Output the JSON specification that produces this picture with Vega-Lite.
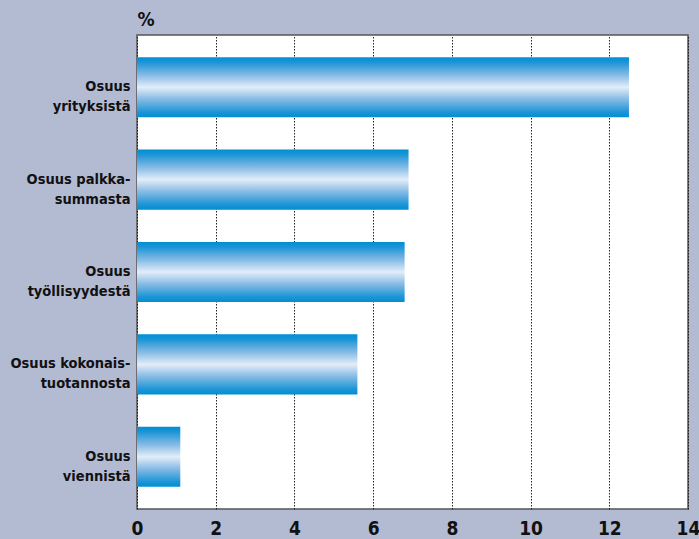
{
  "$schema": "https://vega.github.io/schema/vega-lite/v6.json",
  "width": 551,
  "height": 474,
  "autosize": "none",
  "padding": {"left": 137, "top": 35, "right": 11, "bottom": 30},
  "background": "#b3bbd3",
  "view": {"fill": "white", "stroke": "#555555", "strokeWidth": 1.5},
  "config": {
    "font": "DejaVu Sans Condensed",
    "axis": {"labelFont": "DejaVu Sans Condensed", "titleFont": "DejaVu Sans Condensed"}
  },
  "data": {
    "values": [
      {"label": "Osuus|yrityksistä", "value": 12.5},
      {"label": "Osuus palkka-|summasta", "value": 6.9},
      {"label": "Osuus|työllisyydestä", "value": 6.8},
      {"label": "Osuus kokonais-|tuotannosta", "value": 5.6},
      {"label": "Osuus|viennistä", "value": 1.1}
    ]
  },
  "mark": {
    "type": "bar",
    "cornerRadius": 0,
    "color": {
      "gradient": "linear",
      "x1": 0, "y1": 0, "x2": 0, "y2": 1,
      "stops": [
        {"offset": 0, "color": "#008fd4"},
        {"offset": 0.08, "color": "#1a94d6"},
        {"offset": 0.3, "color": "#86bbe5"},
        {"offset": 0.5, "color": "#e3edf9"},
        {"offset": 0.7, "color": "#86bbe5"},
        {"offset": 0.92, "color": "#1a94d6"},
        {"offset": 1, "color": "#008fd4"}
      ]
    }
  },
  "encoding": {
    "y": {
      "field": "label",
      "type": "nominal",
      "sort": null,
      "scale": {"paddingInner": 0.35, "paddingOuter": 0.24},
      "axis": {
        "title": "%",
        "titleAngle": 0,
        "titleX": 0,
        "titleY": -6,
        "titleAlign": "left",
        "titleBaseline": "bottom",
        "titleFontSize": 19,
        "titleFontWeight": "bold",
        "titleColor": "#111111",
        "labelExpr": "split(datum.label, '|')",
        "labelFontSize": 14.5,
        "labelFontWeight": "bold",
        "labelColor": "#111111",
        "labelLineHeight": 20,
        "labelPadding": 7,
        "ticks": false,
        "domain": false,
        "labelLimit": 200
      }
    },
    "x": {
      "field": "value",
      "type": "quantitative",
      "scale": {"domain": [0, 14], "nice": false},
      "axis": {
        "title": null,
        "values": [0, 2, 4, 6, 8, 10, 12, 14],
        "labelFontSize": 19,
        "labelFontWeight": "bold",
        "labelColor": "#111111",
        "labelPadding": 10,
        "labelFlush": false,
        "ticks": false,
        "domain": false,
        "grid": true,
        "gridColor": "#222222",
        "gridDash": [1.5, 1.5],
        "gridWidth": 1
      }
    }
  }
}
